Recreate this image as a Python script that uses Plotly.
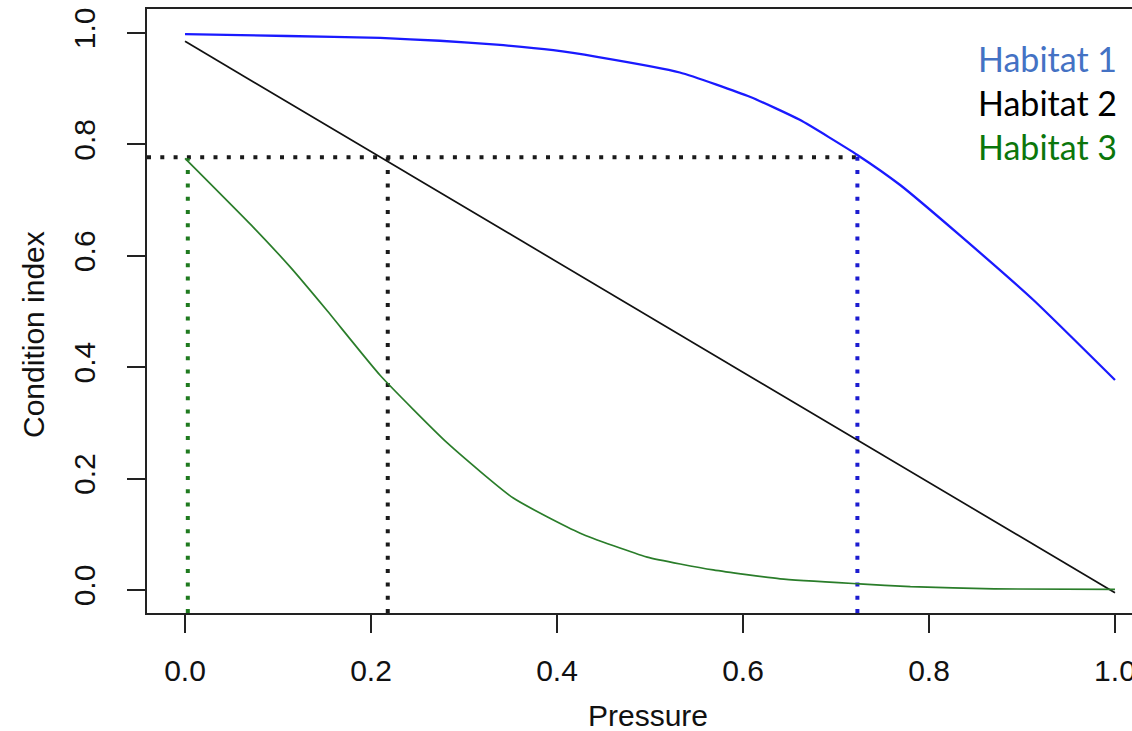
import plotly.graph_objects as go

# ---- data ----
h1_x = [0.0, 0.06, 0.16, 0.21, 0.274, 0.335, 0.396, 0.443, 0.532, 0.608, 0.661, 0.723, 0.769, 0.833, 0.912, 1.0]
h1_y = [0.998, 0.996, 0.993, 0.991, 0.986, 0.979, 0.969, 0.957, 0.929, 0.885, 0.844, 0.781, 0.727, 0.637, 0.521, 0.377]

h2_x = [0.0, 0.274, 1.0]
h2_y = [0.985, 0.714, -0.005]

h3_x = [0.0, 0.073, 0.113, 0.152, 0.21, 0.282, 0.353, 0.425, 0.497, 0.568, 0.64, 0.725, 0.78, 0.87, 1.0]
h3_y = [0.775, 0.652, 0.580, 0.503, 0.385, 0.264, 0.165, 0.102, 0.059, 0.036, 0.020, 0.011, 0.006, 0.002, 0.001]

threshold = 0.777
cross_x = [0.723, 0.218, 0.003]   # habitat 1, 2, 3 pressure at threshold
cross_y = [0.781, 0.777, 0.775]

labels = ["Habitat 1", "Habitat 2", "Habitat 3"]
x_title = "Pressure"
y_title = "Condition index"

x_tick_vals = [0.0, 0.2, 0.4, 0.6, 0.8, 1.0]
x_tick_text = ["0.0", "0.2", "0.4", "0.6", "0.8", "1.0"]
y_tick_vals = [0.0, 0.2, 0.4, 0.6, 0.8, 1.0]
y_tick_text = ["0.0", "0.2", "0.4", "0.6", "0.8", "1.0"]

# ---- layout geometry ----
W, H = 1132, 731
ML, MR, MT, MB = 147, 0, 9, 118
PW, PH = W - ML - MR, H - MT - MB
x_range = [-0.0409, 1.0183]
y_range = [-0.0413, 1.043]

line_cols = ["#1a1aff", "#111111", "#2a7d2a"]
dot_cols = ["#1c1cd0", "#1a1a1a", "#1f7a1f"]
label_cols = ["#4472C4", "#000000", "#0B760B"]
DOT = "4px,9.3px"

fig = go.Figure()

# dotted guides
fig.add_trace(go.Scatter(x=[x_range[0], cross_x[0]], y=[threshold, threshold], mode="lines",
                         line=dict(color=dot_cols[1], width=4, dash=DOT), hoverinfo="skip", showlegend=False))
for i in range(3):
    fig.add_trace(go.Scatter(x=[cross_x[i], cross_x[i]], y=[y_range[0], cross_y[i]], mode="lines",
                             line=dict(color=dot_cols[i], width=4, dash=DOT),
                             hoverinfo="skip", showlegend=False))

# curves
fig.add_trace(go.Scatter(x=h1_x, y=h1_y, mode="lines", name=labels[0],
                         line=dict(color=line_cols[0], width=2.3, shape="spline", smoothing=0.5), showlegend=False))
fig.add_trace(go.Scatter(x=h2_x, y=h2_y, mode="lines", name=labels[1],
                         line=dict(color=line_cols[1], width=1.7), showlegend=False))
fig.add_trace(go.Scatter(x=h3_x, y=h3_y, mode="lines", name=labels[2],
                         line=dict(color=line_cols[2], width=1.7, shape="spline", smoothing=0.5), showlegend=False))

# legend-like text labels at top right
label_px_y = [58, 102, 147]
for lab, col, py in zip(labels, label_cols, label_px_y):
    fig.add_annotation(xref="paper", yref="paper",
                       x=(1119 - ML) / PW, y=1 - (py - MT) / PH,
                       text=lab, showarrow=False, xanchor="right", yanchor="middle",
                       font=dict(family="Lato", size=34, color=col))

axis_font = dict(family="Liberation Sans", size=30, color="#111111")

# axis titles
fig.add_annotation(xref="paper", yref="paper", x=(648 - ML) / PW, y=-(715 - MT - PH) / PH,
                   text=x_title, showarrow=False, xanchor="center", yanchor="middle", font=axis_font)
fig.add_annotation(xref="paper", yref="paper", x=-(ML - 33) / PW, y=1 - (335 - MT) / PH,
                   text=y_title, showarrow=False, xanchor="center", yanchor="middle",
                   textangle=-90, font=axis_font)

fig.update_layout(
    width=W, height=H,
    margin=dict(l=ML, r=MR, t=MT, b=MB, autoexpand=False),
    paper_bgcolor="white", plot_bgcolor="white",
    xaxis=dict(range=x_range, tickvals=x_tick_vals, ticktext=x_tick_text, automargin=False,
               showgrid=False, zeroline=False, showline=True, mirror=True,
               linecolor="#222222", linewidth=2, ticks="outside", ticklen=18, tickwidth=2,
               tickcolor="#222222", tickfont=axis_font, ticklabelstandoff=12,
               ticklabeloverflow="allow"),
    yaxis=dict(range=y_range, tickvals=y_tick_vals, ticktext=y_tick_text, automargin=False,
               showgrid=False, zeroline=False, showline=True, mirror=False,
               linecolor="#222222", linewidth=2, ticks="outside", ticklen=18, tickwidth=2,
               tickcolor="#222222", tickfont=axis_font, tickangle=-90, ticklabelstandoff=20,
               ticklabeloverflow="allow"),
)

fig.write_html("out.html", config={"displayModeBar": False},
               post_script="document.body.style.margin='0';document.body.style.overflow='hidden';")
